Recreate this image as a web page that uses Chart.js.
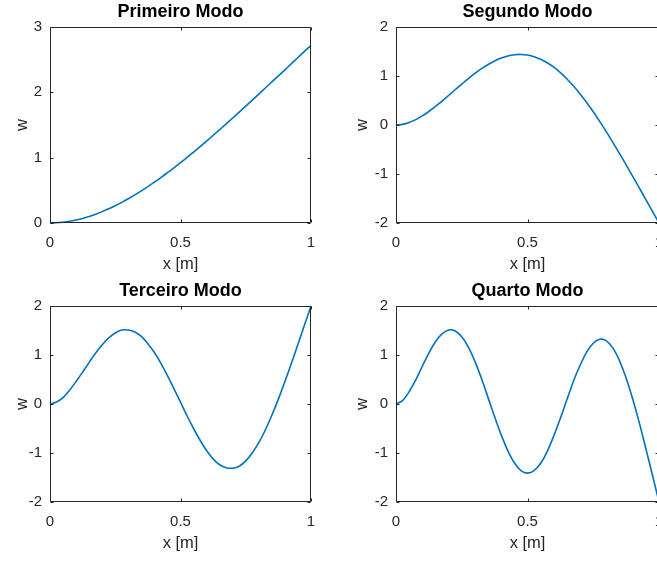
<!DOCTYPE html>
<html>
<head>
<meta charset="utf-8">
<title>Modos de vibração</title>
<script src="https://cdn.jsdelivr.net/npm/chart.js@4.4.0/dist/chart.umd.min.js"></script>
<style>
  html, body { margin: 0; padding: 0; background: #fff; overflow: hidden; }
  #fig { position: relative; width: 657px; height: 562px; overflow: hidden; background: #fff; }
  .panel { position: absolute; }
</style>
</head>
<body>
<div id="fig">
  <div class="panel" style="left:0px;top:0px"><canvas id="modo1" width="330" height="280"></canvas></div>
  <div class="panel" style="left:340px;top:0px"><canvas id="modo2" width="330" height="280"></canvas></div>
  <div class="panel" style="left:0px;top:279px"><canvas id="modo3" width="330" height="280"></canvas></div>
  <div class="panel" style="left:340px;top:279px"><canvas id="modo4" width="330" height="280"></canvas></div>
</div>
<script>
// posição ao longo da viga [m], passo de 0.025
const xPos = [0, 0.025, 0.05, 0.075, 0.1, 0.125, 0.15, 0.175, 0.2, 0.225,
              0.25, 0.275, 0.3, 0.325, 0.35, 0.375, 0.4, 0.425, 0.45, 0.475,
              0.5, 0.525, 0.55, 0.575, 0.6, 0.625, 0.65, 0.675, 0.7, 0.725,
              0.75, 0.775, 0.8, 0.825, 0.85, 0.875, 0.9, 0.925, 0.95, 0.975, 1];

// deslocamento w de cada modo
const modo1 = [0, 0.003, 0.012, 0.026, 0.046, 0.070, 0.100, 0.135, 0.174, 0.217,
               0.265, 0.316, 0.371, 0.430, 0.492, 0.557, 0.625, 0.696, 0.770, 0.845,
               0.923, 1.004, 1.086, 1.169, 1.254, 1.341, 1.429, 1.518, 1.607, 1.698,
               1.789, 1.881, 1.973, 2.066, 2.159, 2.252, 2.345, 2.439, 2.533, 2.627, 2.720];
const modo2 = [0, 0.013, 0.051, 0.109, 0.185, 0.276, 0.378, 0.487, 0.602, 0.719,
               0.835, 0.947, 1.052, 1.149, 1.235, 1.308, 1.367, 1.409, 1.434, 1.440,
               1.427, 1.395, 1.342, 1.270, 1.179, 1.069, 0.940, 0.795, 0.634, 0.459,
               0.270, 0.070, -0.140, -0.358, -0.583, -0.813, -1.047, -1.284, -1.522, -1.761, -2.000];
const modo3 = [0, 0.04, 0.13, 0.28, 0.46, 0.65, 0.85, 1.04, 1.21, 1.35,
               1.45, 1.51, 1.51, 1.47, 1.38, 1.23, 1.05, 0.83, 0.58, 0.31,
               0.04, -0.24, -0.50, -0.74, -0.95, -1.12, -1.24, -1.30, -1.31, -1.27,
               -1.16, -1.00, -0.79, -0.53, -0.23, 0.10, 0.46, 0.83, 1.22, 1.61, 2.00];
const modo4 = [0, 0.07, 0.25, 0.49, 0.77, 1.04, 1.27, 1.43, 1.51, 1.49,
               1.37, 1.16, 0.87, 0.52, 0.13, -0.26, -0.63, -0.95, -1.20, -1.36,
               -1.41, -1.36, -1.21, -0.97, -0.65, -0.29, 0.09, 0.47, 0.79, 1.06,
               1.24, 1.32, 1.29, 1.14, 0.88, 0.53, 0.10, -0.38, -0.91, -1.45, -2.00];

const titulos = ['Primeiro Modo', 'Segundo Modo', 'Terceiro Modo', 'Quarto Modo'];

const FONTE = '"Liberation Sans", Arial, Helvetica, sans-serif';
const COR_EIXO = '#262626';

// caixa fechada com marcas de escala para dentro
const caixa = {
  id: 'caixa',
  afterDatasetsDraw(chart) {
    const { ctx, chartArea: a, scales: { x, y } } = chart;
    const L = Math.round(a.left) + 0.5, R = Math.round(a.right) - 0.5;
    const T = Math.round(a.top) + 0.5, B = Math.round(a.bottom) - 0.5;
    const tam = 3;
    ctx.save();
    ctx.strokeStyle = COR_EIXO;
    ctx.lineWidth = 1;
    ctx.beginPath();
    ctx.rect(L, T, R - L, B - T);
    x.ticks.forEach(t => {
      const px = Math.round(x.getPixelForValue(t.value)) + 0.5;
      ctx.moveTo(px, B); ctx.lineTo(px, B - tam);
      ctx.moveTo(px, T); ctx.lineTo(px, T + tam);
    });
    y.ticks.forEach(t => {
      const py = Math.round(y.getPixelForValue(t.value)) + 0.5;
      ctx.moveTo(L, py); ctx.lineTo(L + tam, py);
      ctx.moveTo(R, py); ctx.lineTo(R - tam, py);
    });
    ctx.stroke();
    ctx.restore();
  }
};

function grafico(id, titulo, serie, yMin, yMax, larguraY, margemDir) {
  const ctx = document.getElementById(id).getContext('2d');
  return new Chart(ctx, {
    type: 'line',
    data: {
      datasets: [{
        data: xPos.map((x, i) => ({ x: x, y: serie[i] })),
        borderColor: '#0072BD',
        borderWidth: 1.6,
        pointRadius: 0,
        tension: 0.3,
        fill: false,
        clip: false
      }]
    },
    options: {
      responsive: false,
      animation: false,
      layout: { padding: { left: 0, right: margemDir, top: 0, bottom: 0 } },
      plugins: {
        legend: { display: false },
        tooltip: { enabled: false },
        title: {
          display: true,
          text: titulo,
          fullSize: false,
          color: '#000',
          font: { family: FONTE, size: 18, weight: 'bold' },
          padding: { top: 1.5, bottom: 3.9 }
        }
      },
      scales: {
        x: {
          type: 'linear',
          min: 0, max: 1,
          afterFit: s => { s.height = 57; s.paddingLeft = 0; s.paddingRight = 0; },
          grid: { display: false, drawTicks: false },
          border: { display: false },
          ticks: { stepSize: 0.5, color: COR_EIXO, padding: 11, maxRotation: 0,
                   callback: v => String(v),
                   font: { family: FONTE, size: 15 } },
          title: { display: true, text: 'x [m]', color: COR_EIXO,
                   font: { family: FONTE, size: 16.5 }, padding: { top: 0, bottom: 6 } }
        },
        y: {
          min: yMin, max: yMax,
          afterFit: s => { s.width = larguraY; s.paddingTop = 0; s.paddingBottom = 0; },
          grid: { display: false, drawTicks: false },
          border: { display: false },
          ticks: { stepSize: 1, color: COR_EIXO, padding: 8,
                   callback: v => String(v),
                   font: { family: FONTE, size: 15 } },
          title: { display: true, text: 'w', color: COR_EIXO,
                   font: { family: FONTE, size: 16.5 }, padding: { top: 12.5, bottom: 0 } }
        }
      }
    },
    plugins: [caixa]
  });
}

grafico('modo1', titulos[0], modo1, 0, 3, 50, 19);
grafico('modo2', titulos[1], modo2, -2, 2, 56, 11);
grafico('modo3', titulos[2], modo3, -2, 2, 50, 19);
grafico('modo4', titulos[3], modo4, -2, 2, 56, 11);
</script>
</body>
</html>
